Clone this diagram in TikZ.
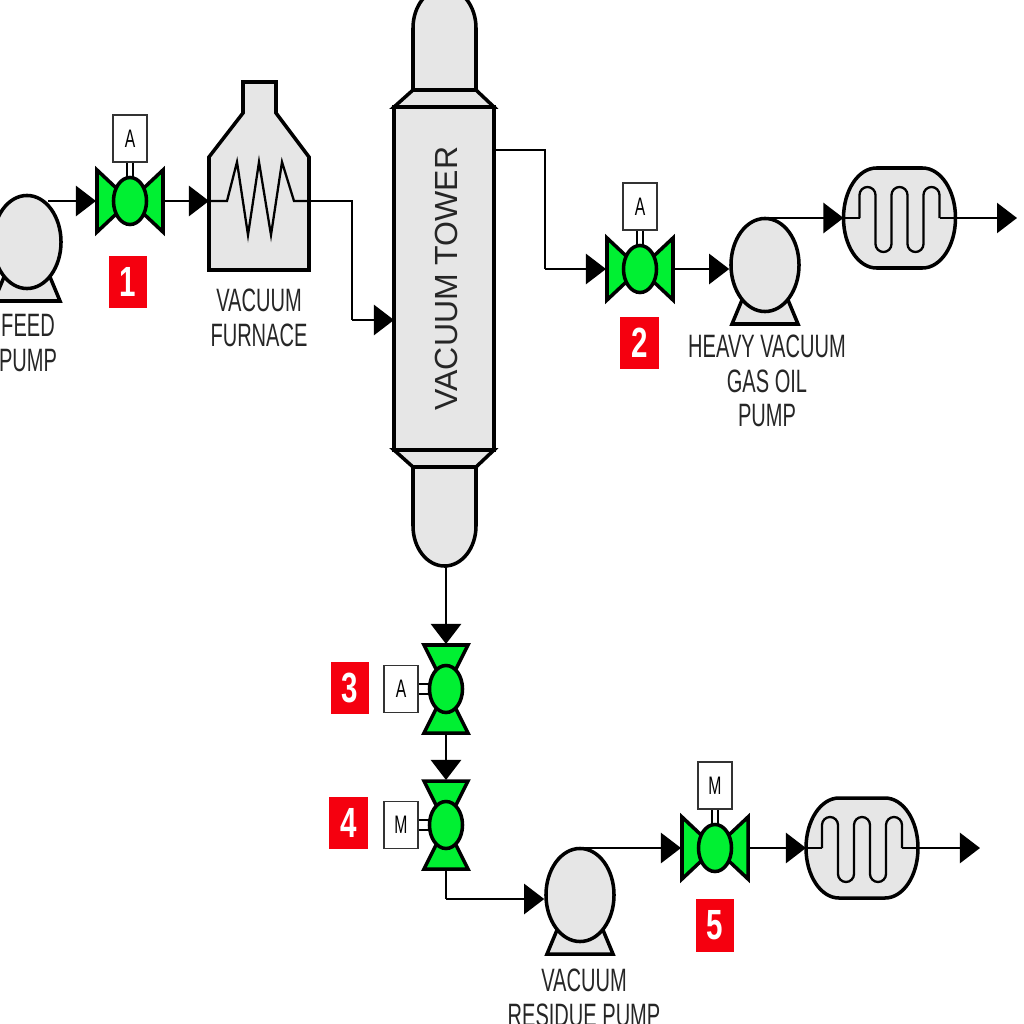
\documentclass[tikz,border=0pt]{standalone}
\usepackage{fontspec}
\setmainfont{Liberation Sans}
\newfontfamily\narrowfont[FakeStretch=0.62]{Liberation Sans}
\newfontfamily\tagfont[FakeStretch=0.7]{Liberation Sans}
\usetikzlibrary{arrows.meta,shapes.geometric}
\definecolor{cinzaEquip}{RGB}{230,230,230}
\definecolor{verdeValvula}{RGB}{0,240,50}
\definecolor{vermelhoTag}{RGB}{245,0,15}
\tikzset{
  equip/.style={draw=black, line width=1pt, fill=cinzaEquip},
  fina/.style={draw=black, line width=.65pt},
  seta/.style={fina, -{Triangle[length=.2cm, width=.3cm]}},
  corpo/.style={ellipse, draw=black, line width=1pt, fill=verdeValvula, inner sep=0pt,
                minimum width=.33cm, minimum height=.47cm},
  asa/.style={draw=black, line width=1pt, fill=verdeValvula},
  atuador/.style={rectangle, draw=black!80, line width=.5pt, fill=white, inner sep=0pt,
                  minimum width=.34cm, minimum height=.47cm, font=\narrowfont\fontsize{7.2}{8}\selectfont},
  tag/.style={rectangle, fill=vermelhoTag, text=white, inner sep=0pt,
              minimum width=.38cm, minimum height=.52cm, font=\tagfont\bfseries\fontsize{12}{13}\selectfont},
  rotulo/.style={align=center, text=black!85, inner sep=0pt, font=\narrowfont\fontsize{9.2}{9.8}\selectfont},
  valvulah/.pic={
    \draw[asa] (-33,-31) -- (0,0) -- (-33,31) -- cycle;
    \draw[asa] (33,-31) -- (0,0) -- (33,31) -- cycle;
    \draw[line width=.5pt] (-3,-24) -- (-3,-40) (3,-24) -- (3,-40);
    \node[corpo] (-corpo) at (0,0) {};
    \node[atuador] (-atuador) at (0,-62.5) {#1};
    \coordinate (-in) at (-34,0);
    \coordinate (-out) at (34,0);
  },
  valvulav/.pic={
    \draw[asa] (-22,-44) -- (0,0) -- (22,-44) -- cycle;
    \draw[asa] (-22,44) -- (0,0) -- (22,44) -- cycle;
    \draw[line width=.5pt] (-17,-5) -- (-28,-5) (-17,5) -- (-28,5);
    \node[corpo] (-corpo) at (0,0) {};
    \node[atuador] (-atuador) at (-45,0) {#1};
    \coordinate (-in) at (0,-45);
    \coordinate (-out) at (0,45);
  },
  bomba/.pic={
    \draw[equip] (-33,59) -- (-23,35) -- (23,35) -- (33,59) -- cycle;
    \node[ellipse, equip, inner sep=0pt, minimum width=.68cm, minimum height=.93cm] (-corpo) at (0,0) {};
    \coordinate (-in) at (-35,0);
    \coordinate (-top) at (0,-47);
  },
  trocador/.pic={
    \draw[equip] (-23,-50) -- (23,-50) arc[start angle=-90, end angle=90, x radius=33, y radius=50]
      -- (-23,50) arc[start angle=90, end angle=270, x radius=33, y radius=50] -- cycle;
    \draw[fina] (-56,0) -- (-40,0) (40,0) -- (56,0);
    \draw[fina, rounded corners=.08cm] (-40,0) -- (-40,-31) -- (-24,-31) -- (-24,34) -- (-8,34)
      -- (-8,-31) -- (8,-31) -- (8,34) -- (24,34) -- (24,-31) -- (40,-31) -- (40,0);
    \coordinate (-in) at (-56,0);
    \coordinate (-out) at (56,0);
  },
}
\begin{document}
\begin{tikzpicture}[x=.01cm, y=-.01cm]
  \useasboundingbox (0,0) rectangle (1024,1024);
  \clip (0,0) rectangle (1024,1024);

  % torre
  \draw[equip] (413,90) -- (413,28) arc[start angle=180, end angle=360, x radius=31.5, y radius=40]
    -- (476,90) -- cycle;
  \draw[equip] (413,467) -- (413,526) arc[start angle=180, end angle=0, x radius=31.5, y radius=40]
    -- (476,467) -- cycle;
  \draw[equip] (394,107) -- (413,90) -- (476,90) -- (494,107) -- cycle;
  \draw[equip] (394,450) -- (413,467) -- (476,467) -- (494,450) -- cycle;
  \node[rectangle, equip, inner sep=0pt, minimum width=1cm, minimum height=3.43cm] (torre) at (444,278.5) {};
  \node[rotate=90, inner sep=0pt, font=\fontsize{9.1}{10}\selectfont, text=black!85] (lblTorre) at (446,278.5) {VACUUM TOWER};
  \coordinate (torreIn) at (394,320);
  \coordinate (torreOut) at (494,150);
  \coordinate (torreBase) at (446,566);

  % forno
  \draw[equip] (209,270) -- (209,157) -- (243,113) -- (243,82) -- (276,82) -- (276,113)
    -- (309,157) -- (309,270) -- cycle;
  \draw[fina] (209,201) -- (227,201) -- (237,162) -- (248,235) -- (259,162) -- (271,235)
    -- (282,162) -- (294,201) -- (309,201);
  \coordinate (fornoIn) at (209,201);
  \coordinate (fornoOut) at (309,201);

  \pic (feed) at (27,242) {bomba};
  \pic (hvgo) at (765,265) {bomba};
  \pic (residuo) at (580,895) {bomba};
  \coordinate (feedOut) at (48,201);

  \pic (v1) at (130,201) {valvulah=A};
  \pic (v2) at (640,269) {valvulah=A};
  \pic (v3) at (446,689) {valvulav=A};
  \pic (v4) at (446,825) {valvulav=M};
  \pic (v5) at (715,848) {valvulah=M};

  \pic (hx1) at (899.5,218) {trocador};
  \pic (hx2) at (862,848) {trocador};
  \coordinate (hx1Fim) at (1017,218);
  \coordinate (hx2Fim) at (980,848);

  \draw[seta] (feedOut) -- (v1-in);
  \draw[seta] (v1-out) -- (fornoIn);
  \draw[fina] (fornoOut) -- (352,201) -- (352,320);
  \draw[seta] (352,320) -- (torreIn);
  \draw[fina] (torreOut) -- (545,150) -- (545,269);
  \draw[seta] (545,269) -- (v2-in);
  \draw[seta] (v2-out) -- (hvgo-corpo.west |- v2-out);
  \draw[seta] (hvgo-top) -- (hx1-in);
  \draw[seta] (hx1-out) -- (hx1Fim);
  \draw[seta] (torreBase) -- (v3-in);
  \draw[seta] (v3-out) -- (v4-in);
  \draw[fina] (v4-out) -- (446,899);
  \draw[seta] (446,899) -- (residuo-corpo.west |- 446,899);
  \draw[seta] (residuo-top) -- (v5-in);
  \draw[seta] (v5-out) -- (hx2-in);
  \draw[seta] (hx2-out) -- (hx2Fim);

  \node[tag] (tag1) at (128,282) {1};
  \node[tag] (tag2) at (639.5,343) {2};
  \node[tag] (tag3) at (350,688) {3};
  \node[tag] (tag4) at (348.5,823) {4};
  \node[tag] (tag5) at (715,925.5) {5};

  \node[rotulo] (lblFeed) at (28,343) {FEED\\PUMP};
  \node[rotulo] (lblForno) at (259,318) {VACUUM\\FURNACE};
  \node[rotulo] (lblHvgo) at (767,381) {HEAVY VACUUM\\GAS OIL\\PUMP};
  \node[rotulo] (lblResiduo) at (584,998) {VACUUM\\RESIDUE PUMP};
\end{tikzpicture}
\end{document}
